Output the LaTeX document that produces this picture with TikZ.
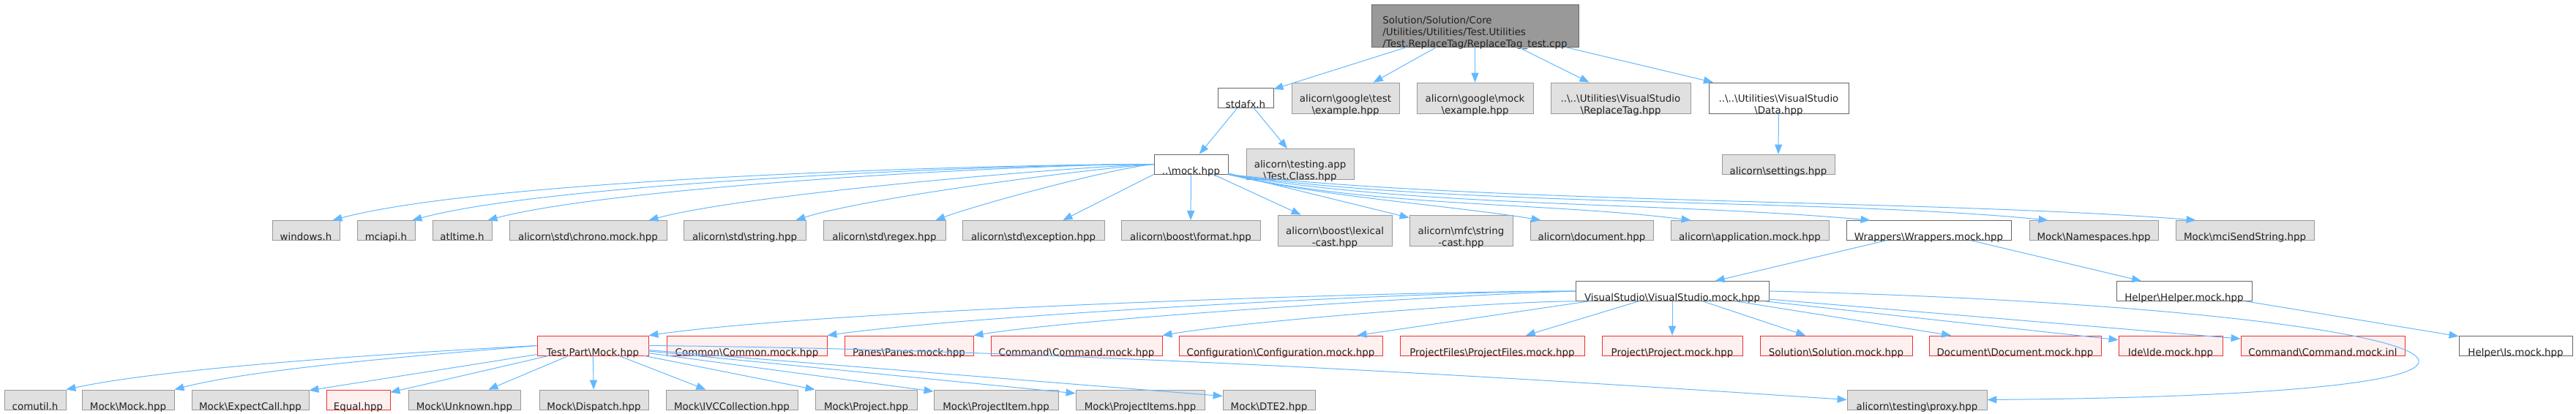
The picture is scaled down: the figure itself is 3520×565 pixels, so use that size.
\documentclass[tikz,border=0pt]{standalone}
\usepackage{fontspec}
\setmainfont{DejaVu Sans}
\usepackage{tikz}
\usetikzlibrary{arrows.meta}

\definecolor{edgeblue}{HTML}{63B8FF}
\definecolor{grayfill}{HTML}{E0E0E0}
\definecolor{graydraw}{HTML}{999999}
\definecolor{darkdraw}{HTML}{666666}
\definecolor{rootfill}{HTML}{999999}
\definecolor{redfill}{HTML}{FFF0F0}
\definecolor{reddraw}{HTML}{F03030}
\definecolor{textgray}{HTML}{222222}
\newcommand{\bsl}{\textbackslash}

\begin{document}
\begin{tikzpicture}[x=1pt, y=1pt,
    box/.style={rectangle, inner sep=0pt, align=center, line width=0.8pt, text=textgray, font=\fontsize{13.4}{16}\selectfont},
    rootbox/.style={box, draw=darkdraw, fill=rootfill, align=left},
    gbox/.style={box, draw=graydraw, fill=grayfill},
    wbox/.style={box, draw=darkdraw, fill=white},
    rbox/.style={box, draw=reddraw, fill=redfill},
    l1/.style={minimum height=27pt, text height=27pt, text depth=0pt},
    l2/.style={minimum height=42pt, text height=42pt, text depth=0pt},
    l3/.style={minimum height=58pt, text height=58pt, text depth=0pt},
    arr/.style={-{Triangle[length=13pt, width=10pt]}, draw=edgeblue, line width=1pt}
]
    \useasboundingbox (0,0) rectangle (3520,-565);

    \node [rootbox, l3, minimum width=283pt] (root) at (2015.5,-35) {Solution/Solution/Core\\/Utilities/Utilities/Test.Utilities\\/Test.ReplaceTag/ReplaceTag\_test.cpp};

    \node [wbox, l1, minimum width=76pt] (stdafx) at (1702,-134) {stdafx.h};
    \node [gbox, l2, minimum width=147pt] (gtest) at (1838.5,-134) {alicorn\bsl{}google\bsl{}test\\\bsl{}example.hpp};
    \node [gbox, l2, minimum width=159pt] (gmock) at (2015.5,-134) {alicorn\bsl{}google\bsl{}mock\\\bsl{}example.hpp};
    \node [gbox, l2, minimum width=191pt] (replacetag) at (2214.5,-134) {..\bsl{}..\bsl{}Utilities\bsl{}VisualStudio\\\bsl{}ReplaceTag.hpp};
    \node [wbox, l2, minimum width=191pt] (data) at (2430.5,-134) {..\bsl{}..\bsl{}Utilities\bsl{}VisualStudio\\\bsl{}Data.hpp};

    \node [wbox, l1, minimum width=101pt] (mock) at (1627.5,-224.5) {..\bsl{}mock.hpp};
    \node [gbox, l2, minimum width=147pt] (testapp) at (1776.5,-224.5) {alicorn\bsl{}testing.app\\\bsl{}Test.Class.hpp};
    \node [gbox, l1, minimum width=154pt] (settings) at (2430,-224.5) {alicorn\bsl{}settings.hpp};

    \node [gbox, l1, minimum width=92pt] (windows) at (418,-315) {windows.h};
    \node [gbox, l1, minimum width=79pt] (mciapi) at (527.5,-315) {mciapi.h};
    \node [gbox, l1, minimum width=81pt] (atltime) at (631.5,-315) {atltime.h};
    \node [gbox, l1, minimum width=215pt] (chrono) at (803.5,-315) {alicorn\bsl{}std\bsl{}chrono.mock.hpp};
    \node [gbox, l1, minimum width=167pt] (stdstring) at (1017.5,-315) {alicorn\bsl{}std\bsl{}string.hpp};
    \node [gbox, l1, minimum width=167pt] (regex) at (1208.5,-315) {alicorn\bsl{}std\bsl{}regex.hpp};
    \node [gbox, l1, minimum width=194pt] (exception) at (1412,-315) {alicorn\bsl{}std\bsl{}exception.hpp};
    \node [gbox, l1, minimum width=190pt] (format) at (1627,-315) {alicorn\bsl{}boost\bsl{}format.hpp};
    \node [gbox, l2, minimum width=156pt] (lexical) at (1824,-315) {alicorn\bsl{}boost\bsl{}lexical\\-cast.hpp};
    \node [gbox, l2, minimum width=141pt] (mfcstring) at (1996.5,-315) {alicorn\bsl{}mfc\bsl{}string\\-cast.hpp};
    \node [gbox, l1, minimum width=168pt] (document) at (2175,-315) {alicorn\bsl{}document.hpp};
    \node [gbox, l1, minimum width=216pt] (application) at (2391,-315) {alicorn\bsl{}application.mock.hpp};
    \node [wbox, l1, minimum width=225pt] (wrappers) at (2635.5,-315) {Wrappers\bsl{}Wrappers.mock.hpp};
    \node [gbox, l1, minimum width=176pt] (namespaces) at (2861,-315) {Mock\bsl{}Namespaces.hpp};
    \node [gbox, l1, minimum width=189pt] (mcisend) at (3067.5,-315) {Mock\bsl{}mciSendString.hpp};

    \node [wbox, l1, minimum width=264pt] (visualstudio) at (2285,-398) {VisualStudio\bsl{}VisualStudio.mock.hpp};
    \node [wbox, l1, minimum width=185pt] (helper) at (2984.5,-398) {Helper\bsl{}Helper.mock.hpp};

    \node [rbox, l1, minimum width=152pt] (testpart) at (810,-472.5) {Test.Part\bsl{}Mock.hpp};
    \node [rbox, l1, minimum width=219pt] (common) at (1020.5,-472.5) {Common\bsl{}Common.mock.hpp};
    \node [rbox, l1, minimum width=176pt] (panes) at (1242,-472.5) {Panes\bsl{}Panes.mock.hpp};
    \node [rbox, l1, minimum width=234pt] (command) at (1471,-472.5) {Command\bsl{}Command.mock.hpp};
    \node [rbox, l1, minimum width=278pt] (configuration) at (1750,-472.5) {Configuration\bsl{}Configuration.mock.hpp};
    \node [rbox, l1, minimum width=252pt] (projectfiles) at (2039,-472.5) {ProjectFiles\bsl{}ProjectFiles.mock.hpp};
    \node [rbox, l1, minimum width=192pt] (project) at (2285,-472.5) {Project\bsl{}Project.mock.hpp};
    \node [rbox, l1, minimum width=208pt] (solution) at (2509,-472.5) {Solution\bsl{}Solution.mock.hpp};
    \node [rbox, l1, minimum width=235pt] (documentmock) at (2753.5,-472.5) {Document\bsl{}Document.mock.hpp};
    \node [rbox, l1, minimum width=142pt] (ide) at (2966,-472.5) {Ide\bsl{}Ide.mock.hpp};
    \node [rbox, l1, minimum width=224pt] (commandinl) at (3174,-472.5) {Command\bsl{}Command.mock.inl};
    \node [wbox, l1, minimum width=155pt] (is) at (3437.5,-472.5) {Helper\bsl{}Is.mock.hpp};

    \node [gbox, l1, minimum width=84pt] (comutil) at (48,-546.5) {comutil.h};
    \node [gbox, l1, minimum width=126pt] (mockmock) at (175,-546.5) {Mock\bsl{}Mock.hpp};
    \node [gbox, l1, minimum width=160pt] (expectcall) at (342,-546.5) {Mock\bsl{}ExpectCall.hpp};
    \node [rbox, l1, minimum width=87pt] (equal) at (489.5,-546.5) {Equal.hpp};
    \node [gbox, l1, minimum width=153pt] (unknown) at (634.5,-546.5) {Mock\bsl{}Unknown.hpp};
    \node [gbox, l1, minimum width=149pt] (dispatch) at (811.5,-546.5) {Mock\bsl{}Dispatch.hpp};
    \node [gbox, l1, minimum width=180pt] (ivc) at (1000,-546.5) {Mock\bsl{}IVCCollection.hpp};
    \node [gbox, l1, minimum width=139pt] (mockproject) at (1183.5,-546.5) {Mock\bsl{}Project.hpp};
    \node [gbox, l1, minimum width=170pt] (projectitem) at (1361,-546.5) {Mock\bsl{}ProjectItem.hpp};
    \node [gbox, l1, minimum width=176pt] (projectitems) at (1558,-546.5) {Mock\bsl{}ProjectItems.hpp};
    \node [gbox, l1, minimum width=126pt] (dte2) at (1734,-546.5) {Mock\bsl{}DTE2.hpp};
    \node [gbox, l1, minimum width=191pt] (proxy) at (2619.5,-546.5) {alicorn\bsl{}testing\bsl{}proxy.hpp};

    \draw [arr] (root) -- (stdafx);
    \draw [arr] (root) -- (gtest);
    \draw [arr] (root) -- (gmock);
    \draw [arr] (root) -- (replacetag);
    \draw [arr] (root) -- (data);
    \draw [arr] (stdafx) -- (mock);
    \draw [arr] (stdafx) -- (testapp);
    \draw [arr] (data) -- (settings);

    \draw [arr] (mock.west) .. controls +(-220,0) and +(213,57) .. ([xshift=-10]windows.north east);
    \draw [arr] (mock.west) .. controls +(-200,0) and +(192,52) .. ([xshift=-4]mciapi.north east);
    \draw [arr] (mock.west) .. controls +(-180,0) and +(173,46) .. ([xshift=-6]atltime.north east);
    \draw [arr] (mock.west) .. controls +(-136,-5) and +(131,35) .. ([xshift=-25]chrono.north east);
    \draw [arr] (mock.west) .. controls +(-97,-7) and +(92,30) .. ([xshift=-14]stdstring.north east);
    \draw [arr] (mock.west) .. controls +(-60,-6) and +(56,21) .. ([xshift=-14]regex.north east);
    \draw [arr] (mock.south west) -- ([xshift=-57]exception.north east);
    \draw [arr] (mock) -- (format);
    \draw [arr] (mock) -- (lexical);
    \draw [arr] (mock) -- (mfcstring);
    \draw [arr] (mock.south east) .. controls +(120,-30) and +(-120,20) .. ([xshift=15]document.north west);
    \draw [arr] (mock.south east) .. controls +(200,-45) and +(-200,25) .. ([xshift=28]application.north west);
    \draw [arr] (mock.south east) .. controls +(250,-45) and +(-280,25) .. ([xshift=33]wrappers.north west);
    \draw [arr] (mock.south east) .. controls +(300,-45) and +(-300,30) .. ([xshift=26]namespaces.north west);
    \draw [arr] (mock.south east) .. controls +(350,-40) and +(-350,28) .. ([xshift=28]mcisend.north west);

    \draw [arr] (wrappers) -- (visualstudio);
    \draw [arr] (wrappers) -- (helper);
    \draw [arr] (helper) -- (is);

    \draw [arr] (visualstudio.west) .. controls +(-248,0) and +(246,35) .. (testpart.north east);
    \draw [arr] (visualstudio.west) .. controls +(-200,0) and +(198,28) .. (common.north east);
    \draw [arr] (visualstudio.west) .. controls +(-162,-5) and +(160,25) .. (panes.north east);
    \draw [arr] (visualstudio.south west) .. controls +(-111,0) and +(109,19) .. (command.north east);
    \draw [arr] ([xshift=18]visualstudio.south west) -- ([xshift=-35]configuration.north east);
    \draw [arr] (visualstudio) -- (projectfiles);
    \draw [arr] (visualstudio) -- (project);
    \draw [arr] (visualstudio) -- (solution);
    \draw [arr] (visualstudio) -- (documentmock);
    \draw [arr] (visualstudio) -- (ide);
    \draw [arr] (visualstudio) -- (commandinl);
    \draw [arr] (visualstudio.east) .. controls +(930,-22) and +(980,8) .. (proxy.east);

    \draw [arr] (testpart.west) .. controls +(-152,-8) and +(148,32) .. (comutil.north east);
    \draw [arr] (testpart.west) .. controls +(-117,-10) and +(113,30) .. (mockmock.north east);
    \draw [arr] (testpart) -- (expectcall);
    \draw [arr] (testpart) -- (equal);
    \draw [arr] (testpart) -- (unknown);
    \draw [arr] (testpart) -- (dispatch);
    \draw [arr] (testpart) -- (ivc);
    \draw [arr] (testpart) -- (mockproject);
    \draw [arr] (testpart) -- (projectitem);
    \draw [arr] (testpart) -- (projectitems);
    \draw [arr] (testpart) -- (dte2);
    \draw [arr] (testpart.east) .. controls +(600,-5) and +(-300,20) .. (proxy.west);
\end{tikzpicture}
\end{document}
